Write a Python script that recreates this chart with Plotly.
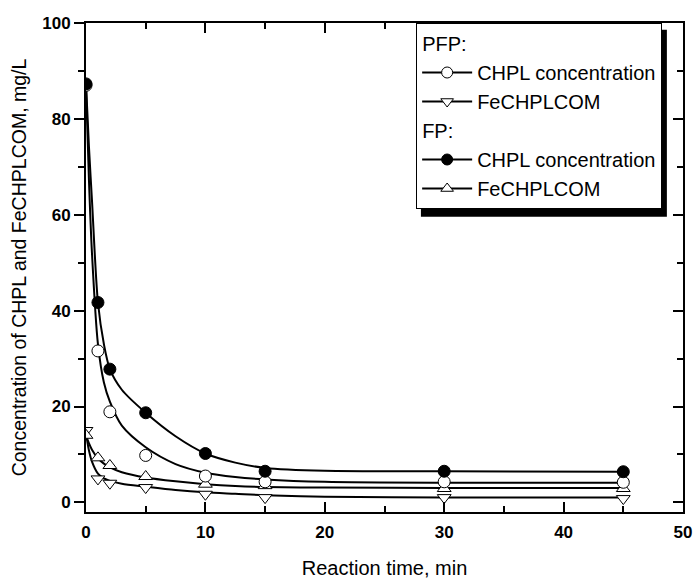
import plotly.graph_objects as go

# ---------------- data ----------------
time_pts = [0, 1, 2, 5, 10, 15, 30, 45]

pfp_chpl = [87.0, 31.6, 18.9, 9.8, 5.5, 4.3, 4.3, 4.2]
pfp_fe = [15.0, 4.9, 4.0, 3.1, 1.7, 1.0, 1.0, 0.8]
fp_chpl = [87.3, 41.7, 27.8, 18.7, 10.2, 6.5, 6.5, 6.4]
fp_fe = [14.0, 9.3, 7.7, 5.4, 3.8, 3.5, 2.9, 2.9]

# fitted curves
fit_t = [0, 0.25, 0.5, 1, 1.5, 2, 3, 5, 7.5, 10, 12.5, 15, 20, 30, 45]
fit_pfp_chpl = [87.0, 67.0, 52.0, 33.0, 25.0, 21.0, 16.0, 11.5, 8.0, 6.2, 5.3, 4.8, 4.3, 4.1, 4.1]
fit_pfp_fe = [14.5, 10.8, 8.5, 6.0, 5.0, 4.5, 3.9, 3.3, 2.6, 2.1, 1.8, 1.5, 1.2, 1.05, 1.0]
fit_fp_chpl = [87.3, 74.0, 63.0, 41.7, 33.0, 27.8, 23.5, 18.7, 13.8, 10.2, 8.3, 7.2, 6.6, 6.5, 6.4]
fit_fp_fe = [14.0, 12.3, 11.0, 9.2, 8.1, 7.3, 6.3, 5.2, 4.4, 3.8, 3.4, 3.2, 3.1, 3.0, 3.0]

x_range = [0, 50]
y_range = [-2, 100]

FONT = "Liberation Sans, Arial, sans-serif"
BLACK = "#000000"

fig = go.Figure()

# fitted curves
for ys in [fit_fp_chpl, fit_pfp_chpl, fit_fp_fe, fit_pfp_fe]:
    fig.add_trace(go.Scatter(x=fit_t, y=ys, mode="lines", line=dict(color=BLACK, width=2, shape="spline", smoothing=0.8),
                             showlegend=False, hoverinfo="skip"))

# data markers
series = [
    (pfp_fe, "triangle-down", "white"),
    (fp_fe, "triangle-up", "white"),
    (pfp_chpl, "circle", "white"),
    (fp_chpl, "circle", BLACK),
]
for ys, sym, fill in series:
    fig.add_trace(go.Scatter(x=time_pts, y=ys, mode="markers",
                             marker=dict(symbol=sym, size=12, color=fill, line=dict(color=BLACK, width=1)),
                             showlegend=False))

# legend entries
legend_items = [
    ("PFP:", "CHPL concentration", "circle", "white"),
    ("PFP:", "FeCHPLCOM", "triangle-down", "white"),
    ("FP:", "CHPL concentration", "circle", BLACK),
    ("FP:", "FeCHPLCOM", "triangle-up", "white"),
]
for grp, name, sym, fill in legend_items:
    fig.add_trace(go.Scatter(x=[None], y=[None], mode="lines+markers", name=name,
                             legendgroup=grp, legendgrouptitle=dict(text=grp, font=dict(size=20, family=FONT, color=BLACK)),
                             line=dict(color=BLACK, width=2),
                             marker=dict(symbol=sym, size=11, color=fill, line=dict(color=BLACK, width=1))))

# right-side axis carrier
fig.add_trace(go.Scatter(x=[None], y=[None], yaxis="y2", showlegend=False, hoverinfo="skip"))

axis_common = dict(showline=True, linecolor=BLACK, linewidth=2, showgrid=False, zeroline=False,
                   tickcolor=BLACK, tickwidth=2, ticklen=10, automargin=False)

fig.update_layout(
    width=696, height=583,
    margin=dict(l=86, r=13, t=23, b=71),
    paper_bgcolor="white", plot_bgcolor="white",
    font=dict(family=FONT, color=BLACK),
    xaxis=dict(range=x_range, dtick=10, ticks="inside", mirror="ticks", **axis_common,
               minor=dict(dtick=5, ticks="inside", ticklen=6, tickwidth=2, tickcolor=BLACK),
               ticklabelstandoff=4,
               tickfont=dict(size=17, family=FONT, weight="bold"),
               title=dict(text="Reaction time, min", font=dict(size=20, family=FONT), standoff=20)),
    yaxis=dict(range=y_range, tickvals=[0, 20, 40, 60, 80, 100], ticks="outside", **axis_common,
               minor=dict(tickvals=[10, 30, 50, 70, 90], ticks="outside", ticklen=6, tickwidth=2, tickcolor=BLACK),
               tickfont=dict(size=17, family=FONT, weight="bold"),
               title=dict(text="Concentration of CHPL and FeCHPLCOM, mg/L", font=dict(size=19.5, family=FONT), standoff=10)),
    yaxis2=dict(range=y_range, overlaying="y", side="right", tickvals=[0, 20, 40, 60, 80, 100], ticks="inside",
                showticklabels=False, **axis_common,
                minor=dict(tickvals=[10, 30, 50, 70, 90], ticks="inside", ticklen=6, tickwidth=2, tickcolor=BLACK)),
    legend=dict(x=0.553, y=1.0, xanchor="left", yanchor="top", bgcolor="white", bordercolor=BLACK, borderwidth=1,
                font=dict(size=20, family=FONT, color=BLACK), tracegroupgap=0, itemwidth=50),
    shapes=[dict(type="rect", xref="paper", yref="paper", x0=0.561, x1=0.973, y0=0.604, y1=0.986,
                 fillcolor=BLACK, line=dict(width=0), layer="below")],
)

fig.write_html("out.html")
